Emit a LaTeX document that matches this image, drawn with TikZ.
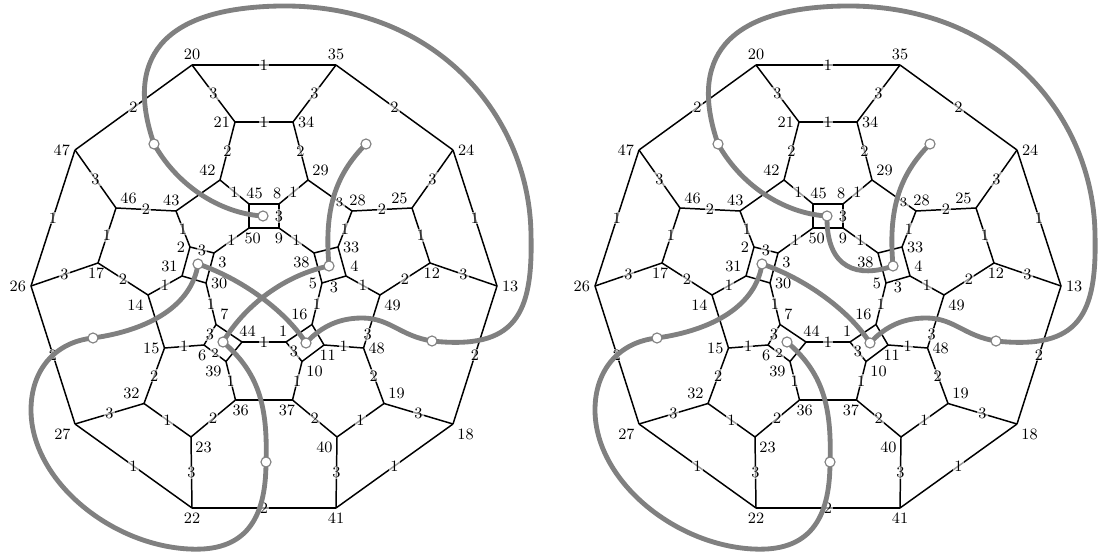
\documentclass[tikz,border=0pt]{standalone}
\usepackage{amsmath}
\usepackage{tikz}

\newcommand{\lblsize}{\fontsize{8.5}{10}\selectfont}

\newcommand{\fullgraph}{%
\foreach \v/\x/\y/\a/\s in {20/192/65/90/0, 35/336/65/90/0, 21/235/122/180/0,
    34/293/122/0/0, 47/75/150/180/0, 24/453/150/0/0, 42/220/180/135/0,
    29/308/180/45/0, 46/116/208/45/0, 25/412/208/135/0, 43/176/211/90/-2.5,
    28/352/211/90/3, 45/249/204/90/3, 8/279/204/90/-1, 50/249/228/-90/2,
    9/279/228/-90/0, 2/190/247/180/0, 3/214/253/-45/0, 38/314/253/-135/0,
    33/338/247/0/0, 17/98/263/-90/-1, 12/430/263/-90/1, 26/31/286/180/0,
    13/497/286/0/0, 31/182/276/135/0, 30/206/283/0/0, 5/322/283/180/0,
    4/346/276/45/0, 14/148/295/-135/0, 49/380/295/-45/0, 16/312/324.5/135/0,
    7/216/324.5/45/0, 44/242/342/90/3, 1/286/342/90/-1.5, 6/204/345/-90/-1,
    11/324/345/-90/2, 39/226/361.5/-135/0, 10/302/361.5/-45/0,
    15/164.5/348/180/0, 48/363.5/348/0/0, 36/235.5/400/-90/2.8,
    37/292.5/400/-90/-3, 32/144/403.5/135/0, 19/384/403.5/45/0,
    27/75/424/-135/0, 18/453/424/-45/0, 23/191/437/-45/0, 40/337/437/-135/0,
    22/192/508/-90/0, 41/336/508/-90/0}
    \coordinate [label={[xshift=\s pt]\a:\v}] (\v) at (\x,\y);

\foreach \a/\b in {42/43, 14/15, 36/37, 45/8, 45/50, 50/9, 2/31, 31/30, 3/30,
    38/33, 38/5, 33/4, 16/1, 16/11, 11/10, 7/44, 44/39}
    \draw [gedge] (\a) -- (\b);

\foreach \a/\b/\c in {20/35/1, 20/21/3, 35/34/3, 20/47/2, 35/24/2, 21/34/1, 21/42/2,
    34/29/2, 42/45/1, 29/8/1, 47/46/3, 24/25/3, 46/43/2, 28/25/2, 47/26/1, 24/13/1,
    46/17/1, 25/12/1, 26/17/3, 12/13/3, 17/14/2, 12/49/2, 26/27/2, 13/18/2, 15/32/2,
    48/19/2, 32/27/3, 19/18/3, 32/23/1, 19/40/1, 23/36/2, 37/40/2, 27/22/1, 18/41/1,
    23/22/3, 40/41/3, 22/41/2, 15/6/1, 48/11/1, 36/39/1, 37/10/1, 31/14/1, 4/49/1,
    30/7/1, 5/16/1, 43/2/1, 33/28/1, 3/50/1, 9/38/1, 44/1/1, 8/9/3, 2/3/3, 6/7/3, 1/10/3}
    \draw [gedge] (\a) -- node [elbl] {\c} (\b);

\draw [gedge] (29) -- node [elbl, pos=0.72, font=\scriptsize] {3} (28);
\draw [gedge] (6) -- node [elbl, font=\scriptsize] {2} (39);
\draw [gedge] (49) -- node [elbl, pos=0.75] {3} (48);
\draw [gedge] (5) -- node [elbl, below=0.5pt] {3} (4);

\foreach \i/\x/\y in {1/154/144, 2/263/216, 3/366/144, 4/329/266, 5/198/264,
    6/93/338, 7/223/342, 8/306/343, 9/432/341, 10/266/462}
    \coordinate (c\i) at (\x,\y);
}

\newcommand{\commonbands}{%
\draw [band] (c2) .. controls (225,214) and (180,190) .. (c1);
\draw [band] (c1) .. controls (125,60) and (160,8) .. (280,6)
    .. controls (440,4) and (530,120) .. (531,235)
    .. controls (533,315) and (515,350) .. (c9);
\draw [band] (c9) .. controls (400,336) and (390,318) .. (362,318)
    .. controls (335,318) and (318,330) .. (c8);
\draw [band] (c8) .. controls (285,310) and (240,278) .. (c5);
\draw [band] (c5) .. controls (192,305) and (150,330) .. (c6);
\draw [band] (c6) .. controls (55,342) and (31,370) .. (31,410)
    .. controls (31,480) and (110,545) .. (189,549)
    .. controls (245,552) and (266,520) .. (c10);
\draw [band] (c10) .. controls (268,405) and (258,372) .. (c7);
\draw [band] (c4) .. controls (324,210) and (335,175) .. (c3);

\foreach \i in {1,...,10}
    \node [ring] (ring\i) at (c\i) {};
}

\begin{document}
\begin{tikzpicture}[x=0.0189cm, y=-0.0189cm,
    every label/.style={font=\lblsize, inner sep=1.5pt},
    label distance=1pt,
    gedge/.style={line width=0.8pt},
    elbl/.style={font=\lblsize, fill=white, fill opacity=0.6, text opacity=1, inner sep=0.6pt},
    band/.style={line width=2.6pt, gray},
    ring/.style={circle, draw=gray, fill=white, line width=0.6pt, inner sep=0pt, minimum size=1.9mm}]

\useasboundingbox (0,0) rectangle (1100,552);

\begin{scope}[name prefix=L-]
\fullgraph
\draw [band] (c7) .. controls (245,305) and (285,275) .. (c4);
\commonbands
\end{scope}

\begin{scope}[name prefix=R-, shift={(564,0)}]
\fullgraph
\draw [band] (c2) .. controls (262,270) and (295,278) .. (c4);
\commonbands
\end{scope}

\end{tikzpicture}
\end{document}
